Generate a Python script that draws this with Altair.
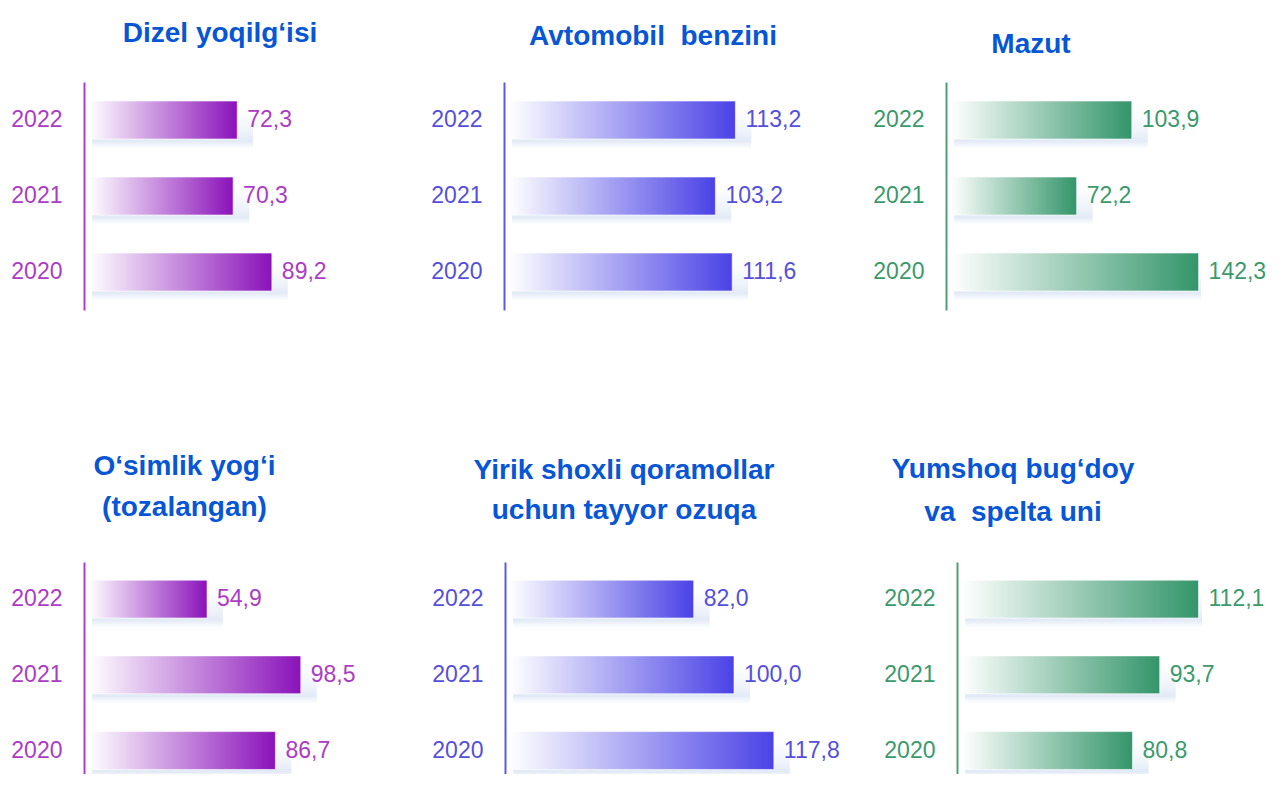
import altair as alt
import pandas as pd

# ---- data ----
years = ["2022", "2021", "2020"]
title_dizel = ["Dizel yoqilg‘isi"]
title_benzin = ["Avtomobil\u00a0 benzini"]
title_mazut = ["Mazut"]
title_osimlik = ["O‘simlik yog‘i", "(tozalangan)"]
title_ozuqa = ["Yirik shoxli qoramollar", "uchun tayyor ozuqa"]
title_un = ["Yumshoq bug‘doy", "va\u00a0 spelta uni"]

dizel = [72.3, 70.3, 89.2]
benzin = [113.2, 103.2, 111.6]
mazut = [103.9, 72.2, 142.3]
osimlik = [54.9, 98.5, 86.7]
ozuqa = [82.0, 100.0, 117.8]
un = [112.1, 93.7, 80.8]

# ---- styles ----
FONT = "Liberation Sans"
TITLE_COLOR = "#0656d6"
purple = dict(bar="#8a12ba", text="#ab3cc6", axis="#b23ad2")
blue = dict(bar="#4a42e6", text="#5550dc", axis="#5a5ae6")
green = dict(bar="#33956a", text="#3a9a6c", axis="#4f9f76")


def panel(vals, title, pal, width, height, xmax, po, al, t_offset, t_dx, t_lh):
    df = pd.DataFrame({
        "year": years,
        "value": vals,
        "start": [0.0] * len(vals),
        "label": [f"{v:.1f}".replace(".", ",") for v in vals],
    })
    xscale = alt.Scale(domain=[0, xmax], zero=True, nice=False)
    y = alt.Y(
        "year:N",
        sort=years,
        title=None,
        scale=alt.Scale(paddingInner=0.5, paddingOuter=po, align=al),
        axis=alt.Axis(
            domainColor=pal["axis"], domainWidth=2, ticks=False, tickSize=0,
            labelPadding=22, labelFontSize=23, labelFont=FONT,
            labelColor=pal["text"], offset=5, grid=False, labelAngle=0,
        ),
    )
    base = alt.Chart(df)
    shadow = base.mark_rect(
        clip=True, xOffset=3, x2Offset=16, yOffset=9,
        color=alt.Gradient(
            gradient="linear", x1=0, x2=0, y1=0, y2=1,
            stops=[
                alt.GradientStop(color="rgba(226,234,246,0)", offset=0),
                alt.GradientStop(color="rgba(226,234,246,0.6)", offset=0.6),
                alt.GradientStop(color="#e2eaf6", offset=0.82),
                alt.GradientStop(color="rgba(240,244,250,0.3)", offset=1),
            ],
        ),
    ).encode(
        x=alt.X("start:Q", scale=xscale, axis=None),
        x2=alt.X2("value:Q"),
        y=y,
    )
    bar = base.mark_bar(
        color=alt.Gradient(
            gradient="linear", x1=0, x2=1, y1=0, y2=0,
            stops=[
                alt.GradientStop(color="#ffffff", offset=0),
                alt.GradientStop(color=pal["bar"], offset=1),
            ],
        ),
        stroke="#ffffff", strokeOpacity=0.6, strokeWidth=1,
    ).encode(
        x=alt.X("value:Q", scale=xscale, axis=None),
        y=y,
    )
    text = base.mark_text(
        align="left", baseline="middle", dx=10, fontSize=23, font=FONT,
        color=pal["text"],
    ).encode(
        x=alt.X("value:Q", scale=xscale, axis=None),
        y=y,
        text="label:N",
    )
    return alt.layer(shadow, bar, text).properties(
        width=width,
        height=height,
        title=alt.TitleParams(
            text=title, anchor="middle", frame="group", dx=t_dx,
            offset=t_offset, fontSize=28, font=FONT, fontWeight="bold",
            color=TITLE_COLOR, lineHeight=t_lh, baseline="bottom",
        ),
    )


p1 = panel(dizel, title_dizel, purple, 320, 228, 320 / 2.05, 0.25, 0.5, 6, -29, 38)
p2 = panel(benzin, title_benzin, blue, 342, 228, 342 / 2.0, 0.25, 0.5, 3, -27, 38)
p3 = panel(mazut, title_mazut, green, 250, 228, 250 / 1.74, 0.25, 0.5, -5, -45, 38)
p4 = panel(osimlik, title_osimlik, purple, 321, 212, 321 / 2.15, 0.15, 0.8, 12, -65, 41)
p5 = panel(ozuqa, title_ozuqa, blue, 352, 212, 352 / 2.24, 0.15, 0.8, 9, -62, 40)
p6 = panel(un, title_un, green, 240, 212, 240 / 2.11, 0.15, 0.8, 7, -69, 43)

row1 = alt.hconcat(p1, p2, p3, spacing=100, bounds="flush")
row2 = alt.hconcat(p4, p5, p6, spacing=100, bounds="flush")

# with flush bounds the nested rows have no height of their own, so the
# vertical spacing covers the first row's plot height (228) plus the gap (252)
chart = alt.vconcat(
    row1, row2, spacing=480, bounds="flush",
).properties(
    padding={"left": 2, "top": 12, "right": 0, "bottom": 0},
    background="#ffffff",
).configure_view(strokeWidth=0)

chart.save("out.html", embed_options={"renderer": "svg", "actions": False})
